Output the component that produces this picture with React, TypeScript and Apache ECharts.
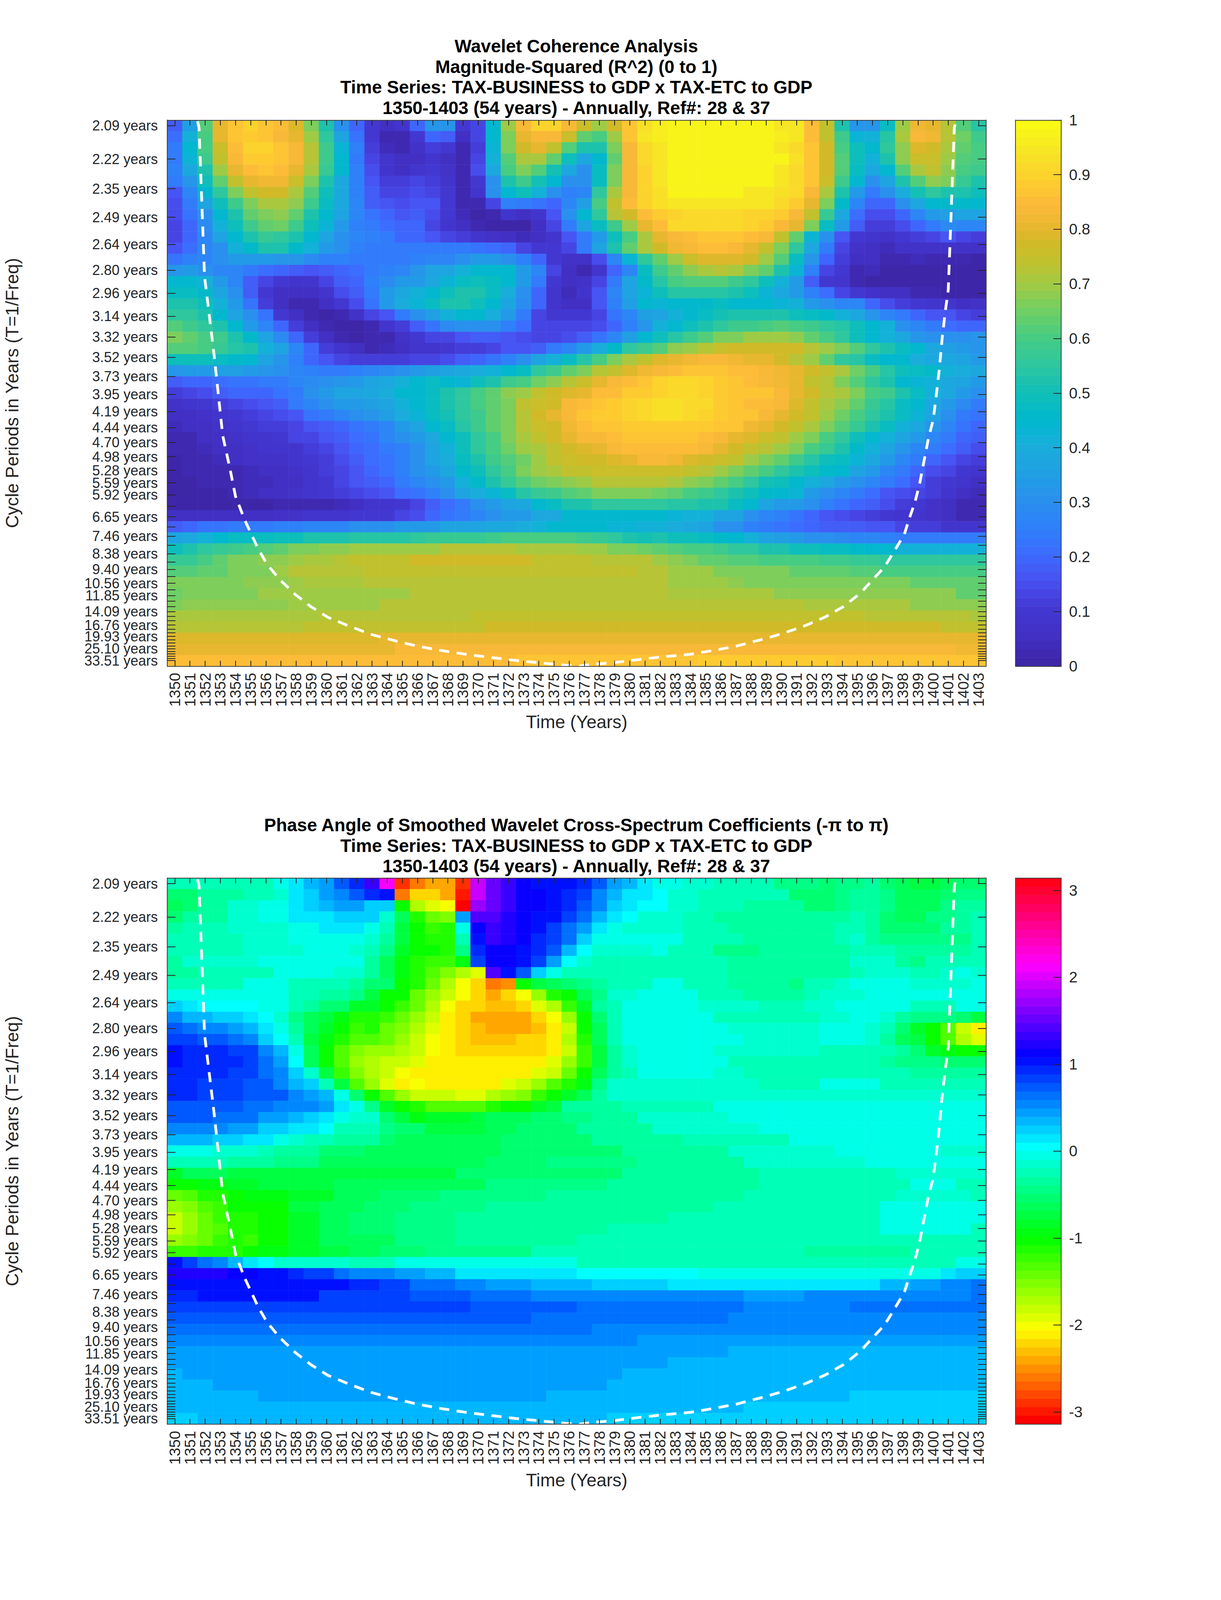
import React, { useEffect, useRef } from "react";
import * as echarts from "echarts";

type Cell = number | [number, number];

const years: string[] = [];
for (let y = 1350; y <= 1403; y++) years.push(String(y));

const periods = [2.09,2.22,2.35,2.49,2.64,2.80,2.96,3.14,3.32,3.52,3.73,3.95,4.19,4.44,4.70,4.98,5.28,5.59,5.92,6.27,6.65,7.05,7.46,7.90,8.38,8.88,9.40,9.97,10.56,11.19,11.85,12.55,13.30,14.09,14.93,15.81,16.76,17.76,18.81,19.93,21.11,22.37,23.70,25.10,26.60,28.18,29.86,31.63,33.51];
const labelledPeriods = [2.09,2.22,2.35,2.49,2.64,2.80,2.96,3.14,3.32,3.52,3.73,3.95,4.19,4.44,4.70,4.98,5.28,5.59,5.92,6.65,7.46,8.38,9.40,10.56,11.85,14.09,16.76,19.93,25.10,33.51];

const cohTicks = [0,0.1,0.2,0.3,0.4,0.5,0.6,0.7,0.8,0.9,1];
const phaseTicks = [-3,-2,-1,0,1,2,3];

const coiYears = [1351.5,1351.6,1351.96,1352.6,1353.16,1353.64,1354.0,1354.6,1355.5,1356.1,1356.9,1357.9,1358.96,1360.1,1361.5,1363.0,1364.5,1366.05,1367.6,1369.3,1370.9,1372.45,1374.1,1375.8,1376.7,1377.4,1379,1380.6,1382.25,1384,1385.5,1387,1388.7,1390.1,1391.6,1392.9,1394.1,1395.2,1396,1396.8,1397.4,1398.1,1398.4,1398.8,1399.1,1399.4,1399.7,1400,1400.2,1400.4,1400.6,1400.8,1401,1401.4,1401.5];
const coiFreqs = [0.4821,0.4766,0.3521,0.285,0.2185,0.1906,0.1677,0.148,0.1234,0.1103,0.0981,0.0857,0.0752,0.0661,0.0587,0.0516,0.0465,0.0418,0.0382,0.0349,0.0324,0.03,0.0279,0.0259,0.0252,0.0265,0.0282,0.0308,0.0331,0.0351,0.0383,0.0419,0.0475,0.0526,0.0593,0.0665,0.0752,0.0863,0.0975,0.1084,0.1208,0.1356,0.1478,0.1626,0.1774,0.1971,0.2168,0.2313,0.251,0.2733,0.3003,0.3224,0.3408,0.4766,0.4821];

// Magnitude-squared coherence, in hundredths. [v, n] repeats v over n cells.
const cohRows: Cell[][] = [
[18,35,62,80,87,90,87,85,79,67,53,31,19,10,5,8,19,32,32,10,14,45,70,84,90,90,84,76,69,77,86,93,96,97,98,98,97,98,98,98,95,94,85,74,52,32,32,48,70,82,81,73,62,54],
[21,42,60,80,87,88,86,84,80,70,56,37,23,10,3,2,10,19,18,5,13,44,66,80,84,84,76,63,60,70,86,94,96,[98,7],96,95,85,75,58,43,41,54,71,83,82,72,65,58],
[25,44,60,76,85,90,90,87,83,72,58,43,26,12,4,2,7,11,10,3,12,43,66,77,80,75,62,52,52,67,84,92,95,[98,7],95,92,86,77,60,50,44,55,68,79,78,71,63,60],
[25,43,58,74,83,88,88,86,83,72,58,44,25,14,8,5,5,8,6,2,13,42,62,71,71,63,50,39,45,64,83,92,95,[98,8],93,86,77,62,50,42,52,68,76,76,70,62,60],
[26,38,53,69,80,85,87,85,80,71,57,45,26,15,9,6,9,10,7,3,15,38,60,66,61,51,38,31,47,67,83,90,95,[98,7],94,91,86,77,61,47,38,44,62,71,74,68,60,58],
[25,32,50,64,74,80,82,82,76,66,53,38,26,16,11,11,13,12,8,3,10,30,53,58,51,44,30,30,48,67,83,90,94,[97,7],94,91,86,76,58,44,30,36,53,62,68,66,57,52],
[17,28,45,56,66,74,77,77,71,62,50,39,26,18,14,14,15,14,10,3,8,30,45,49,41,31,26,28,55,71,84,90,93,[97,5],95,95,93,91,83,71,53,34,25,31,40,51,56,53,53,50],
[15,24,36,49,59,67,71,71,68,59,48,38,27,18,16,15,16,16,10,3,3,13,26,25,22,20,27,35,60,74,85,90,93,[95,5],94,94,91,88,81,66,46,28,20,20,31,38,45,46,46,45],
[15,22,31,45,53,63,66,68,64,53,45,36,27,22,20,17,18,15,10,4,0,2,8,5,8,17,31,44,56,72,78,85,88,90,91,[92,3],90,90,88,84,74,57,38,21,15,15,20,28,34,35,36,36],
[14,20,29,42,50,58,64,65,58,50,43,33,26,24,21,20,20,14,8,5,2,1,0,1,5,14,24,36,48,59,70,80,85,91,91,92,92,91,90,88,84,80,67,48,33,18,11,11,15,20,25,29,28,28],
[14,19,28,37,45,52,57,55,52,44,36,31,28,26,24,20,20,16,13,12,9,7,6,4,5,9,17,24,34,50,60,71,80,84,85,87,87,87,85,83,74,63,43,30,16,10,8,7,10,12,14,16,13,12],
[17,21,27,31,41,46,52,52,46,42,34,30,26,24,24,24,24,24,24,24,23,21,19,13,10,10,13,24,37,52,63,71,77,82,84,85,85,84,80,75,67,55,38,24,13,7,6,4,7,7,7,7,7,7],
[23,26,28,30,34,34,34,32,32,29,26,26,25,25,25,25,26,27,28,30,33,33,30,26,20,10,7,7,15,27,43,55,64,70,76,79,79,79,77,70,62,48,32,19,11,6,5,3,3,4,3,2,3,0],
[32,33,31,28,28,24,21,19,18,17,18,20,21,24,26,28,32,36,37,42,44,44,44,34,28,13,5,3,9,20,28,47,59,64,68,71,72,71,67,63,53,43,26,14,10,3,4,1,0,0,0,0,0,0],
[44,44,42,33,28,18,13,10,9,9,13,18,20,26,29,33,34,38,43,47,49,48,44,34,24,10,5,7,13,25,36,46,54,60,62,62,62,58,55,50,41,33,18,10,8,3,0,0,0,0,0,0,0,0],
[48,48,46,36,30,18,10,6,5,5,9,15,18,24,33,39,42,44,50,52,52,48,40,31,20,8,4,8,17,28,36,43,50,54,54,54,54,52,49,43,38,34,26,21,14,10,7,6,6,3,2,0,0,0],
[52,52,50,42,33,23,12,6,3,3,6,10,15,22,34,40,43,47,52,53,50,44,36,29,20,8,5,5,16,26,35,44,43,44,44,46,47,45,44,44,43,41,33,30,28,27,20,15,12,10,8,8,5,7],
[56,56,53,44,37,30,22,10,6,2,1,3,7,13,16,25,31,35,42,44,44,40,33,24,14,10,10,10,13,22,28,35,37,42,44,47,51,52,52,52,52,50,48,46,42,38,32,28,24,20,16,16,13,12],
[62,58,56,52,45,33,28,19,11,6,2,0,1,3,8,12,18,22,29,31,30,30,26,21,14,13,13,13,15,19,26,32,42,44,50,53,55,58,59,60,61,60,59,56,54,50,44,41,30,28,24,21,20,19],
[66,64,60,58,52,46,36,29,20,12,6,3,1,2,3,7,10,13,14,17,18,18,17,15,14,14,15,18,22,28,35,44,50,54,58,62,66,67,69,70,69,68,64,60,56,50,44,42,38,32,30,30,31,32],
[62,62,60,57,54,52,42,37,28,20,11,8,5,3,4,5,8,8,10,12,12,14,16,17,18,24,28,33,40,46,56,59,62,68,70,73,76,77,78,78,78,77,73,70,66,61,56,52,48,44,38,35,33,32],
[50,50,50,48,46,44,36,32,26,20,17,14,12,12,12,12,13,14,15,18,20,22,26,30,37,42,48,54,60,66,71,74,79,81,82,83,83,82,81,80,77,72,70,64,56,54,48,44,44,40,38,38,36,34],
[32,33,34,35,35,34,32,30,28,26,25,25,26,28,29,31,33,35,36,38,40,42,44,48,55,59,63,67,72,75,79,82,84,85,86,86,86,85,85,84,82,80,78,74,71,65,60,54,50,47,46,42,40,39],
[18,19,20,21,22,23,24,25,27,29,30,32,34,37,39,41,44,47,44,43,49,53,58,60,65,68,73,76,80,83,85,87,90,91,91,90,89,87,85,84,82,80,75,72,67,62,56,53,45,43,41,38,36,34],
[12,13,15,18,19,20,20,23,25,31,34,36,37,39,40,44,45,48,53,55,60,64,68,70,74,77,79,81,85,85,89,89,90,92,92,90,89,87,87,87,83,80,77,73,71,66,60,58,52,48,42,38,34,30],
[7,8,10,12,13,15,17,18,24,28,30,33,34,35,37,41,44,47,52,55,60,64,66,74,76,78,83,85,86,88,90,92,93,93,92,91,88,87,85,85,83,79,75,71,68,63,57,54,48,44,38,34,29,25],
[5,6,7,8,10,12,13,15,17,22,24,28,30,32,35,40,43,47,51,55,59,63,67,72,78,81,84,86,88,89,90,92,93,93,92,90,88,87,86,84,80,78,74,69,65,60,56,52,47,43,36,31,25,23],
[4,5,6,7,8,10,11,12,14,16,18,20,23,25,28,33,36,44,47,54,58,63,67,73,76,78,82,85,86,87,89,89,89,89,89,89,87,86,82,81,78,75,71,66,62,57,52,47,41,38,32,27,22,20],
[3,3,5,6,7,8,9,10,13,14,16,18,21,23,27,30,33,38,44,50,55,60,66,71,74,77,80,83,84,85,87,87,87,87,87,85,84,81,79,76,74,70,66,60,55,50,45,42,37,33,28,24,20,18],
[2,3,4,6,6,7,8,8,9,12,14,17,19,21,24,26,31,36,42,50,55,60,65,69,71,75,78,79,81,83,85,85,85,85,85,83,81,78,74,72,69,66,60,57,53,46,42,37,32,28,24,21,18,15],
[1,2,3,4,5,7,7,7,8,10,12,15,18,21,23,26,30,36,40,48,53,58,62,65,70,74,76,77,77,79,80,83,83,82,79,77,76,75,70,67,63,59,54,50,47,43,38,34,28,24,20,16,14,12],
[1,2,2,3,3,4,5,6,7,9,11,14,17,20,22,26,30,34,38,46,50,56,60,66,69,71,74,75,76,76,76,76,76,76,74,72,70,66,63,60,56,53,50,46,44,37,33,28,24,20,15,13,10,8],
[0,1,2,3,3,4,4,5,6,8,10,14,16,18,20,24,27,31,34,41,46,52,57,61,65,67,68,70,72,72,72,72,72,71,68,66,63,60,56,51,49,45,41,38,34,31,28,24,21,16,12,10,8,6],
[0,0,0,1,3,4,5,6,7,8,10,11,14,15,17,21,23,26,31,36,40,43,48,54,57,59,62,64,66,66,66,66,65,63,60,58,55,52,49,46,44,43,33,31,28,24,21,17,15,13,11,9,6,4],
[0,0,0,0,1,1,1,2,2,3,3,4,6,8,9,10,13,18,21,25,30,33,36,39,44,47,52,53,55,55,55,55,55,54,54,53,52,47,44,36,34,33,30,26,22,20,18,15,12,10,7,5,2,2],
[5,5,5,5,6,6,6,7,7,8,8,9,10,10,10,13,15,19,22,25,27,30,33,34,38,38,44,44,44,44,44,44,44,43,42,42,36,36,30,28,26,23,19,17,15,14,12,10,9,8,7,6,3,3],
[18,20,22,23,24,25,25,26,26,27,28,28,30,30,31,33,33,34,36,36,37,38,38,40,42,44,45,44,44,43,43,42,42,40,38,37,30,30,26,24,22,21,19,18,18,18,17,16,14,12,11,9,8,8],
[37,39,42,44,47,48,48,49,50,52,53,53,54,54,54,54,56,57,57,57,57,58,60,60,60,60,60,59,57,55,53,51,52,50,49,47,46,44,41,37,35,34,30,30,29,28,27,26,[24,6]],
[50,53,56,57,58,60,62,64,66,67,68,68,69,[70,5],72,[73,4],[71,4],70,69,67,67,65,63,62,60,60,58,56,55,53,52,50,50,48,47,46,45,44,[42,6]],
[57,57,60,63,66,67,68,68,69,71,71,73,74,[75,3],[77,8],[75,4],[73,3],72,70,68,67,64,64,62,62,[60,4],58,58,57,57,56,56,[55,5]],
[62,62,64,64,66,66,67,70,[72,5],[75,17],74,73,72,[70,3],[67,5],[64,4],62,62,[60,7]],
[66,66,66,67,67,68,68,68,70,[71,4],[73,20],[70,4],68,[67,7],[66,4],[64,5]],
[65,[67,5],[69,3],[70,7],[73,17],[71,7],[68,12],64,64],
[66,[68,7],[70,6],[73,28],[71,7],[68,5]],
[[71,10],[73,10],[75,26],[73,7],71],
[[73,9],[75,12],[77,30],[75,3]],
[[79,14],[81,37],[80,3]],
[[81,15],[83,10],[84,27],[82,2]],
[[85,23],[87,12],[88,9],[87,10]],
];

// Phase angle, in hundredths of a radian. [v, n] repeats v over n cells.
const phaseRows: Cell[][] = [
[[-20,2],[-26,3],[-20,2],-3,10,30,40,70,95,130,210,-290,-260,-245,-245,-290,190,155,130,110,105,100,100,95,70,40,30,10,[0,2],-10,-15,[-25,4],-40,[-45,2],-50,-45,-40,-32,-50,-60,[-70,2],-60,-55,-50],
[-55,-50,-35,-35,-30,-22,-22,-12,12,25,40,55,70,90,105,-260,-225,-225,-240,-295,195,150,135,115,108,103,95,85,50,38,15,13,3,-10,-12,-20,[-28,5],[-50,3],-42,-35,-35,-48,[-60,3],-55,-48,-45],
[-60,-55,-35,-35,-15,-15,-8,-8,12,28,36,45,45,20,20,-105,-175,-190,-200,-314,170,150,135,115,108,102,90,78,50,25,18,3,2,-10,-10,-22,-28,-28,[-35,4],-50,-50,-40,-35,-35,-45,[-60,3],-45,-38,-30],
[-50,[-33,3],-15,-15,-7,-7,10,12,12,20,20,20,-10,-65,-115,-140,-150,40,140,140,125,112,107,102,80,66,32,13,3,-12,-10,-15,-22,-22,[-30,3],[-36,4],-37,-33,-28,-38,-50,-65,-65,-45,-40,-35,-28],
[-33,[-25,3],-15,[-10,3],-3,-2,[13,3],0,-28,-70,-105,-120,-110,0,110,135,120,110,105,85,65,45,10,0,-10,[-15,3],[-22,3],-30,-30,[-33,5],-25,-22,-30,[-50,4],-35,-30,-25],
[[-22,5],[-12,3],[-1,5],-10,-35,-70,-105,-115,-108,-25,105,128,125,110,95,80,60,20,-2,[-8,5],[-25,4],-30,[-33,5],-25,-12,-30,-45,[-40,5],-25],
[[-22,5],[-12,4],[0,3],-10,-20,-45,-80,-105,-105,-110,-40,90,115,115,105,95,70,30,1,[-18,4],-8,[-20,3],[-40,3],[-32,5],-32,-20,-20,-20,-35,-35,[-35,3],-20],
[-30,[-18,5],[-8,7],-30,-60,-90,-110,-120,-120,-95,85,115,115,105,85,45,2,-15,-25,[-20,8],[-30,2],[-30,5],-30,[-18,3],-30,-40,-20,[-20,3]],
[[-35,2],[-22,5],[-8,4],-15,-15,-35,-60,-95,-110,-135,-150,-170,-195,140,105,75,25,-8,[-20,11],[-32,4],[-33,4],-25,[-10,3],-20,-20,-15,-8,-18],
[[-25,5],[-8,3],[-22,4],-30,-55,-55,-100,-115,-145,-175,-198,-225,-260,-250,-105,-70,-60,-55,-45,-30,[-20,3],-5,-5,[-20,3],[-30,4],-42,-25,-25,-12,[-5,4],[-12,4],-5],
[[-2,8],-20,-20,-30,-30,-40,-70,-100,-100,-140,-160,-185,-205,-225,-238,-225,-205,-160,-115,-100,-60,-45,-12,-12,[-2,4],[-20,3],[-32,4],-20,[-10,3],-1,-1,[-7,6]],
[27,12,[1,4],-5,-5,-22,-35,-55,-55,-80,-80,-100,-125,-145,-175,-200,-220,-225,-235,-235,-225,-195,-170,-120,-85,-35,-20,[-2,5],[-15,4],-25,-25,-25,-15,-10,-2,[0,3],-5,[-20,3],-5,-5],
[50,35,35,20,20,13,1,-10,-40,-60,-72,-90,-110,-115,-120,-140,-160,-185,-210,-220,[-238,4],-220,-200,-160,-105,-50,-25,[-5,6],[-20,7],-10,-10,0,0,-10,-30,[-45,3],-50,-70],
[75,65,52,52,40,35,13,0,-30,-65,-85,-105,-120,-115,-140,-155,-175,-195,-210,-225,-235,[-240,3],-230,-210,-185,-105,-65,-25,[-5,7],[-15,6],-2,0,0,-10,-25,-55,-80,-105,-130,-180,-210],
[85,85,75,75,60,52,27,8,-25,-70,-95,-110,-130,-135,-145,-165,-185,-200,-210,-220,-230,-235,-235,-225,-225,-210,-175,-115,-65,-28,[-8,8],[-12,5],-2,-2,-2,-15,-30,-60,-75,-105,-130,-175,-195],
[100,90,90,90,82,82,50,38,-3,-65,-105,-130,-150,-160,-165,-175,-185,-200,-210,-220,[-225,4],-220,-208,-180,-125,-70,-32,-10,[0,5],[-15,7],[-20,4],-25,-35,-50,-80,-90,-105,-105],
[100,93,93,93,93,82,62,40,8,-60,-105,-135,-165,-175,-180,-185,-195,-212,[-215,6],-207,-195,-165,-120,-70,-30,-10,[0,5],-5,[-20,10],-30,[-45,3],[-55,3]],
[[90,4],80,80,65,50,28,-15,-70,-125,-155,-175,-185,-200,[-208,3],[-215,4],-208,-195,-180,-140,-105,-60,-30,-20,-8,[0,4],-15,-15,[-20,11],[-30,5]],
[90,90,[80,3],70,70,52,38,25,-20,-70,-130,-165,-195,-215,-205,[-208,5],-195,-180,-165,-135,-115,-90,-40,-15,[-10,9],[-20,4],[-8,4],[-20,7]],
[90,90,[80,3],[70,3],50,42,30,-2,-55,-105,-135,-165,[-185,3],-195,-195,-175,-160,-150,-125,-100,-85,-65,-35,[-15,4],[-10,21]],
[[72,5],62,62,[50,3],40,15,-8,-45,-85,-100,-115,[-130,4],-115,-105,-100,-80,-70,[-35,4],[-20,6],[-8,14],[0,4]],
[[70,3],[60,3],40,40,30,20,13,0,-15,-15,-50,-70,-90,[-85,3],-75,[-65,3],-55,-55,-40,-40,[-30,3],[-18,6],[-5,7],[0,10]],
[[55,4],42,42,28,20,17,10,2,-20,-20,-20,-42,-50,-50,[-70,4],-65,-65,[-50,4],[-30,5],[-18,7],[-2,15]],
[[33,3],20,20,10,10,0,-10,-25,-25,[-35,3],-55,[-65,7],[-55,6],[-38,6],[-20,7],[-5,8],[0,5]],
[[0,3],[-12,3],-28,[-35,3],[-50,3],[-60,9],[-50,8],[-30,7],[-18,7],[-7,7],[-15,3]],
[[-28,4],[-36,3],[-45,3],[-62,10],-68,[-55,4],[-48,6],[-30,7],[-18,8],[-5,8]],
[-85,[-60,3],[-70,15],[-58,5],[-50,6],[-33,9],[-20,9],[-10,6]],
[-105,-105,-95,-95,-85,-85,[-70,5],[-62,5],[-60,5],[-48,8],[-35,10],[-25,10],[-8,3],-20,-20],
[-145,-130,-115,-115,-100,-95,-95,-95,[-80,3],[-65,3],[-55,4],[-48,7],[-38,13],[-25,10],[-10,5],-20],
[-165,-155,-135,-120,-100,-105,-105,-100,-78,-78,[-62,3],[-55,3],[-45,5],[-38,15],[-22,11],[-5,7]],
[-185,-160,-145,-125,-110,-115,-105,-105,-85,-85,-65,-65,[-55,3],[-42,4],[-35,14],[-20,14],[-5,7]],
[-180,-165,-145,-130,-115,-115,-105,-105,-85,-85,-65,-65,[-55,3],[-42,4],[-33,10],[-20,18],[-8,6],-20],
[-165,-155,-140,-120,-115,-120,-105,-105,-85,-85,-65,-65,-65,-60,-60,[-42,4],[-33,8],[-22,27]],
[-125,-125,-115,-115,-110,-105,-95,-95,-85,-85,-72,-72,-62,-62,[-55,3],[-40,7],[-28,18],[-38,7],[-25,5]],
[100,85,60,50,30,15,2,[-10,5],[-20,3],[-5,12],[-20,25],-5,-5],
[125,125,125,125,110,110,100,100,95,85,85,65,55,50,50,42,42,30,30,[18,3],[13,5],[2,8],[-8,14],0,0,13,20,20],
[[105,8],[100,4],95,95,80,80,[65,3],55,55,[45,3],[37,4],[28,5],[18,14],30,30,40,40,50,50,60],
[90,90,[100,8],[88,6],[72,4],[65,4],[55,5],[50,9],[42,4],[50,7],[55,4],65],
[[82,20],[72,7],[62,11],[55,7],[62,9]],
[[72,24],[60,13],[52,15],[58,2]],
[[62,28],[50,26]],
[[55,31],[45,23]],
[[40,37],[32,17]],
[[40,33],[32,21]],
[33,[40,29],[32,24]],
[[33,3],[40,26],[32,25]],
[[33,6],[40,19],[32,20],[28,9]],
[[32,38],[26,16]],
[[22,2],[32,27],[26,25]],
];

const parulaStops: [number, string][] = [
  [0,"#3E26A8"],[0.05,"#4130C4"],[0.1,"#4338D4"],[0.15,"#4850F0"],[0.2,"#3D6BFF"],[0.25,"#2E80FA"],[0.3,"#2A90EE"],[0.35,"#209FE3"],[0.4,"#1AAEDB"],[0.45,"#00B8CE"],[0.5,"#0FBFB8"],[0.55,"#2CC6A0"],[0.6,"#43CC85"],[0.65,"#6CCF66"],[0.7,"#A0CB45"],[0.75,"#C4C02C"],[0.78,"#D2BA28"],[0.8,"#E2B72C"],[0.85,"#FDB83A"],[0.9,"#FDD12D"],[0.95,"#F6E525"],[1,"#F9FB15"],
];

const LEVELS = 64;
const INK = "#262626";
const FONT = "Liberation Sans";
const PI = Math.PI;
const FULL_HEIGHT = 6252;

const hex = (n: number) => Math.round(n).toString(16).padStart(2, "0");
const parse = (c: string) => [1, 3, 5].map((i) => parseInt(c.slice(i, i + 2), 16));
function parulaAt(t: number): string {
  for (let i = 1; i < parulaStops.length; i++) {
    if (t <= parulaStops[i][0]) {
      const [t0, c0] = parulaStops[i - 1];
      const [t1, c1] = parulaStops[i];
      const a = parse(c0), b = parse(c1), f = (t - t0) / (t1 - t0);
      return "#" + a.map((v, k) => hex(v + (b[k] - v) * f)).join("");
    }
  }
  return parulaStops[parulaStops.length - 1][1];
}
function hsvAt(h: number): string {
  const s = h * 6, i = Math.floor(s) % 6, f = s - Math.floor(s);
  const rgb = [[1,f,0],[1-f,1,0],[0,1,f],[0,1-f,1],[f,0,1],[1,0,1-f]][i];
  return "#" + rgb.map((v) => hex(v * 255)).join("");
}
const expand = (rows: Cell[][], scale: number) =>
  rows.map((row) => {
    const out = row.flatMap((e) => (Array.isArray(e) ? Array(e[1]).fill(e[0]) : [e])) as number[];
    while (out.length < years.length) out.push(out[out.length - 1]);
    return out.slice(0, years.length).map((v) => v / scale);
  });

const rowNames = periods.map((p) => String(p));
const FREQ_TOP = 1 / periods[0] + (1 / periods[0] - 1 / periods[48]) / 96;
const FREQ_BOTTOM = 1 / periods[48] - (1 / periods[0] - 1 / periods[48]) / 96;
const tickFreqs = periods.map((p) => 1 / p);
// Alternate labels sit on two coincident axes so ECharts does not drop the end labels as overlapping.
const labelFreqsA = labelledPeriods.filter((_, i) => i % 2 === 0).map((p) => 1 / p);
const labelFreqsB = labelledPeriods.filter((_, i) => i % 2 === 1).map((p) => 1 / p);

function buildOption(sy: number) {
  const fit = sy < 1;
  const labelSize = fit ? 39 : 58;
  const periodLabelSize = fit ? 36 : 58;
  const nameSize = fit ? 46 : 65;
  const titleSize = fit ? 46 : 65;
  const lineW = fit ? 2 : 3;
  const vTick = 21 * sy;
  const axisLine = { show: true, onZero: false, lineStyle: { color: "#404040", width: lineW } };
  const tickStyle = { color: INK, width: lineW };
  const grid: any[] = [], xAxis: any[] = [], yAxis: any[] = [], series: any[] = [], visualMap: any[] = [], title: any[] = [];
  const periodLabel = (customValues: number[]) => ({
    customValues, showMinLabel: true, showMaxLabel: true, margin: 24,
    fontFamily: FONT, fontSize: periodLabelSize, color: INK,
    formatter: (v: number) => `${(1 / v).toFixed(2)} years`,
  });

  const addPlot = (top: number, rows: number[][]) => {
    const g = grid.length;
    grid.push({ left: 426, top: top * sy, width: 2098, height: 2134 * sy });
    const xi = xAxis.length, yi = yAxis.length;
    xAxis.push({
      type: "category", gridIndex: g, data: years, position: "bottom", z: 10,
      name: "Time (Years)", nameLocation: "middle", nameGap: fit ? 120 : 180,
      nameTextStyle: { fontFamily: FONT, fontSize: nameSize, color: INK },
      axisLine,
      axisTick: { show: true, inside: true, length: vTick, interval: 0, alignWithLabel: true, lineStyle: tickStyle },
      axisLabel: { interval: 0, rotate: 90, margin: 26 * sy, fontFamily: FONT, fontSize: labelSize, color: INK },
      splitLine: { show: false },
    });
    xAxis.push({ type: "value", gridIndex: g, min: 1349.5, max: 1403.5, show: false, splitLine: { show: false } });
    xAxis.push({
      type: "category", gridIndex: g, data: years, position: "top", z: 10, axisLine,
      axisTick: { show: true, inside: true, length: vTick, interval: 0, alignWithLabel: true, lineStyle: tickStyle },
      axisLabel: { show: false }, splitLine: { show: false },
    });
    yAxis.push({ type: "category", gridIndex: g, data: rowNames, inverse: true, show: false });
    yAxis.push({
      type: "value", gridIndex: g, position: "left", min: FREQ_BOTTOM, max: FREQ_TOP, z: 10,
      name: "Cycle Periods in Years (T=1/Freq)", nameLocation: "middle", nameGap: 374, nameRotate: 90,
      nameTextStyle: { fontFamily: FONT, fontSize: nameSize, color: INK },
      axisLine,
      axisTick: { show: true, inside: true, length: 21, customValues: tickFreqs, lineStyle: tickStyle },
      axisLabel: periodLabel(labelFreqsA),
      splitLine: { show: false },
    });
    yAxis.push({
      type: "value", gridIndex: g, position: "right", min: FREQ_BOTTOM, max: FREQ_TOP, z: 10, axisLine,
      axisTick: { show: true, inside: true, length: 21, customValues: tickFreqs, lineStyle: tickStyle },
      axisLabel: { show: false }, splitLine: { show: false },
    });
    yAxis.push({
      type: "value", gridIndex: g, position: "left", min: FREQ_BOTTOM, max: FREQ_TOP, z: 10,
      axisLine: { show: false }, axisTick: { show: false },
      axisLabel: periodLabel(labelFreqsB),
      splitLine: { show: false },
    });
    const data: number[][] = [];
    rows.forEach((row, r) => row.forEach((v, c) => data.push([c, r, v])));
    const heatIndex = series.length;
    series.push({ type: "heatmap", xAxisIndex: xi, yAxisIndex: yi, data, silent: true, progressive: 0, z: 2, emphasis: { disabled: true } });
    series.push({
      type: "line", xAxisIndex: xi + 1, yAxisIndex: yi + 1, data: coiYears.map((y, i) => [y, coiFreqs[i]]),
      showSymbol: false, silent: true, z: 5, clip: true,
      lineStyle: { color: "#ffffff", width: fit ? 7 : 8, type: fit ? [26, 19] : [32, 24] },
    });
    return heatIndex;
  };

  const addBar = (top: number, min: number, max: number, ticks: number[], colorAt: (i: number) => string, heatIndex: number) => {
    const g = grid.length;
    grid.push({ left: 2599, top: top * sy, width: 117, height: 2134 * sy });
    const xi = xAxis.length, yi = yAxis.length;
    const step = (max - min) / LEVELS;
    const levelValues = Array.from({ length: LEVELS }, (_, i) => min + step * (i + 0.5));
    xAxis.push({ type: "category", gridIndex: g, data: ["c"], position: "bottom", z: 10, axisLine, axisTick: { show: false }, axisLabel: { show: false } });
    xAxis.push({ type: "category", gridIndex: g, data: ["c"], position: "top", z: 10, axisLine, axisTick: { show: false }, axisLabel: { show: false } });
    yAxis.push({ type: "category", gridIndex: g, data: levelValues.map(String), position: "left", z: 10, axisLine, axisTick: { show: false }, axisLabel: { show: false } });
    yAxis.push({
      type: "value", gridIndex: g, position: "right", min, max, z: 10, axisLine,
      axisTick: { show: true, inside: true, length: 20, customValues: ticks, lineStyle: tickStyle },
      axisLabel: { customValues: ticks, showMinLabel: true, showMaxLabel: true, margin: 20, fontFamily: FONT, fontSize: labelSize, color: INK, formatter: (v: number) => String(v) },
      splitLine: { show: false },
    });
    const barIndex = series.length;
    series.push({
      type: "heatmap", xAxisIndex: xi, yAxisIndex: yi, silent: true, z: 2, emphasis: { disabled: true },
      data: levelValues.map((v, i) => [0, i, v]),
    });
    visualMap.push({
      type: "piecewise", show: false, dimension: 2, seriesIndex: [heatIndex, barIndex],
      pieces: levelValues.map((_, i) => ({ min: min + step * i, max: min + step * (i + 1), color: colorAt(i) })),
      outOfRange: { color: "#ffffff" },
    });
  };

  const h1 = addPlot(469, expand(cohRows, 100));
  addBar(469, 0, 1, cohTicks, (i) => parulaAt(i / (LEVELS - 1)), h1);
  const h2 = addPlot(3431, expand(phaseRows, 100));
  addBar(3431, -PI, PI, phaseTicks, (i) => hsvAt(i / LEVELS), h2);

  const titleLines: [string, number][] = [
    ["Wavelet Coherence Analysis", 180],
    ["Magnitude-Squared (R^2) (0 to 1)", 261],
    ["Time Series: TAX-BUSINESS to GDP x TAX-ETC to GDP", 341],
    ["1350-1403 (54 years) - Annually, Ref#: 28 & 37", 422],
    ["Phase Angle of Smoothed Wavelet Cross-Spectrum Coefficients (-\u03c0 to \u03c0)", 3224],
    ["Time Series: TAX-BUSINESS to GDP x TAX-ETC to GDP", 3304],
    ["1350-1403 (54 years) - Annually, Ref#: 28 & 37", 3384],
  ];
  titleLines.forEach(([text, y]) =>
    title.push({
      text, left: 1475, top: y * sy - titleSize / 2, textAlign: "center", padding: 0,
      textStyle: { fontFamily: FONT, fontWeight: "bold", fontSize: titleSize, color: "#000000" },
    }),
  );

  return { animation: false, backgroundColor: "#ffffff", title, grid, xAxis, yAxis, series, visualMap };
}

export default function App() {
  const ref = useRef<HTMLDivElement>(null);
  const height = Math.min(FULL_HEIGHT, window.innerHeight || FULL_HEIGHT);
  useEffect(() => {
    document.body.style.margin = "0";
    document.documentElement.style.overflow = "hidden";
    const chart = echarts.init(ref.current!, undefined, { renderer: "svg" });
    chart.setOption(buildOption(height / FULL_HEIGHT) as any);
    return () => chart.dispose();
  }, []);
  return <div ref={ref} style={{ width: 3125, height }} />;
}
